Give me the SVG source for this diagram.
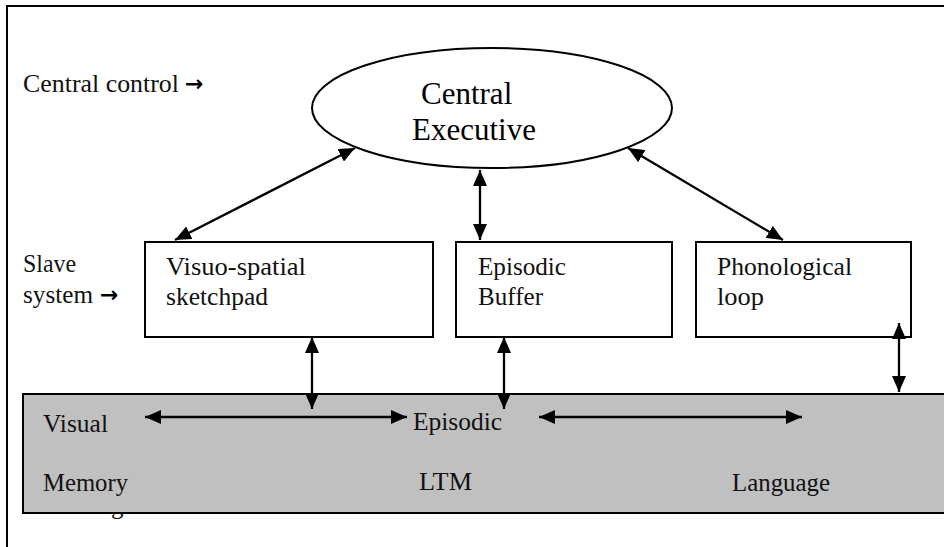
<svg xmlns="http://www.w3.org/2000/svg" width="944" height="547" viewBox="0 0 944 547">
<style>
text{font-family:'Liberation Serif','DejaVu Serif','Noto Serif','Times New Roman',serif}
.t{font-size:25px;fill:#111}
.big{font-size:31px;fill:#000}
.arr{font-family:'DejaVu Sans',sans-serif;font-weight:bold;font-size:22px;fill:#000}
.box{fill:#fff;stroke:#000;stroke-width:2}
.con{stroke:#000;stroke-width:2.3;fill:none;marker-start:url(#ah);marker-end:url(#ah)}
</style>
<defs>
<marker id="ah" markerUnits="userSpaceOnUse" markerWidth="16" markerHeight="14" viewBox="0 0 16 14" refX="16" refY="7" orient="auto-start-reverse">
<path d="M0,0 L16,7 L0,14 Z" fill="#000"/>
</marker>
</defs>
<rect x="0" y="0" width="944" height="547" fill="#fff"/>
<rect x="7" y="6" width="960" height="570" fill="none" stroke="#000" stroke-width="2"/>
<g id="labels">
<text class="t" x="23" y="92" textLength="156" lengthAdjust="spacingAndGlyphs">Central control</text>
<text class="arr" x="185" y="91">→</text>
<text class="t" x="23" y="272" textLength="53" lengthAdjust="spacingAndGlyphs">Slave</text>
<text class="t" x="23" y="303" textLength="70" lengthAdjust="spacingAndGlyphs">system</text>
<text class="arr" x="100" y="302">→</text>
</g>
<g id="central-executive">
<ellipse cx="492" cy="108" rx="180" ry="60" fill="#fff" stroke="#000" stroke-width="2"/>
<text class="big" x="421" y="104">Central</text>
<text class="big" x="412" y="140">Executive</text>
</g>
<g id="visuo-spatial">
<rect class="box" x="145" y="242" width="288" height="95"/>
<text class="t" x="166" y="275" textLength="140" lengthAdjust="spacingAndGlyphs">Visuo-spatial</text>
<text class="t" x="166" y="305" textLength="102" lengthAdjust="spacingAndGlyphs">sketchpad</text>
</g>
<g id="episodic-buffer">
<rect class="box" x="456" y="242" width="216" height="95"/>
<text class="t" x="478" y="275" textLength="88" lengthAdjust="spacingAndGlyphs">Episodic</text>
<text class="t" x="478" y="305" textLength="65" lengthAdjust="spacingAndGlyphs">Buffer</text>
</g>
<g id="phonological-loop">
<rect class="box" x="696" y="242" width="215" height="95"/>
<text class="t" x="717" y="275" textLength="135" lengthAdjust="spacingAndGlyphs">Phonological</text>
<text class="t" x="717" y="305" textLength="47" lengthAdjust="spacingAndGlyphs">loop</text>
</g>
<g id="ltm">
<text class="t" x="111" y="514">g</text>
<rect x="23" y="394" width="940" height="119" fill="#c0c0c0" stroke="#000" stroke-width="2"/>
<text class="t" x="43" y="432" textLength="65" lengthAdjust="spacingAndGlyphs">Visual</text>
<text class="t" x="43" y="491" textLength="85" lengthAdjust="spacingAndGlyphs">Memory</text>
<text class="t" x="413" y="430" textLength="89" lengthAdjust="spacingAndGlyphs">Episodic</text>
<text class="t" x="419" y="490" textLength="53" lengthAdjust="spacingAndGlyphs">LTM</text>
<text class="t" x="732" y="491" textLength="98" lengthAdjust="spacingAndGlyphs">Language</text>
</g>
<g id="connectors">
<line class="con" x1="355" y1="148" x2="175" y2="240"/>
<line class="con" x1="480" y1="170" x2="480" y2="240"/>
<line class="con" x1="628" y1="148" x2="783" y2="240"/>
<line class="con" x1="312" y1="337" x2="312" y2="409"/>
<line class="con" x1="504" y1="337" x2="504" y2="409"/>
<line class="con" x1="899" y1="323" x2="899" y2="392"/>
<line class="con" x1="145" y1="417" x2="407" y2="417"/>
<line class="con" x1="539" y1="417" x2="802" y2="417"/>
</g>
</svg>
